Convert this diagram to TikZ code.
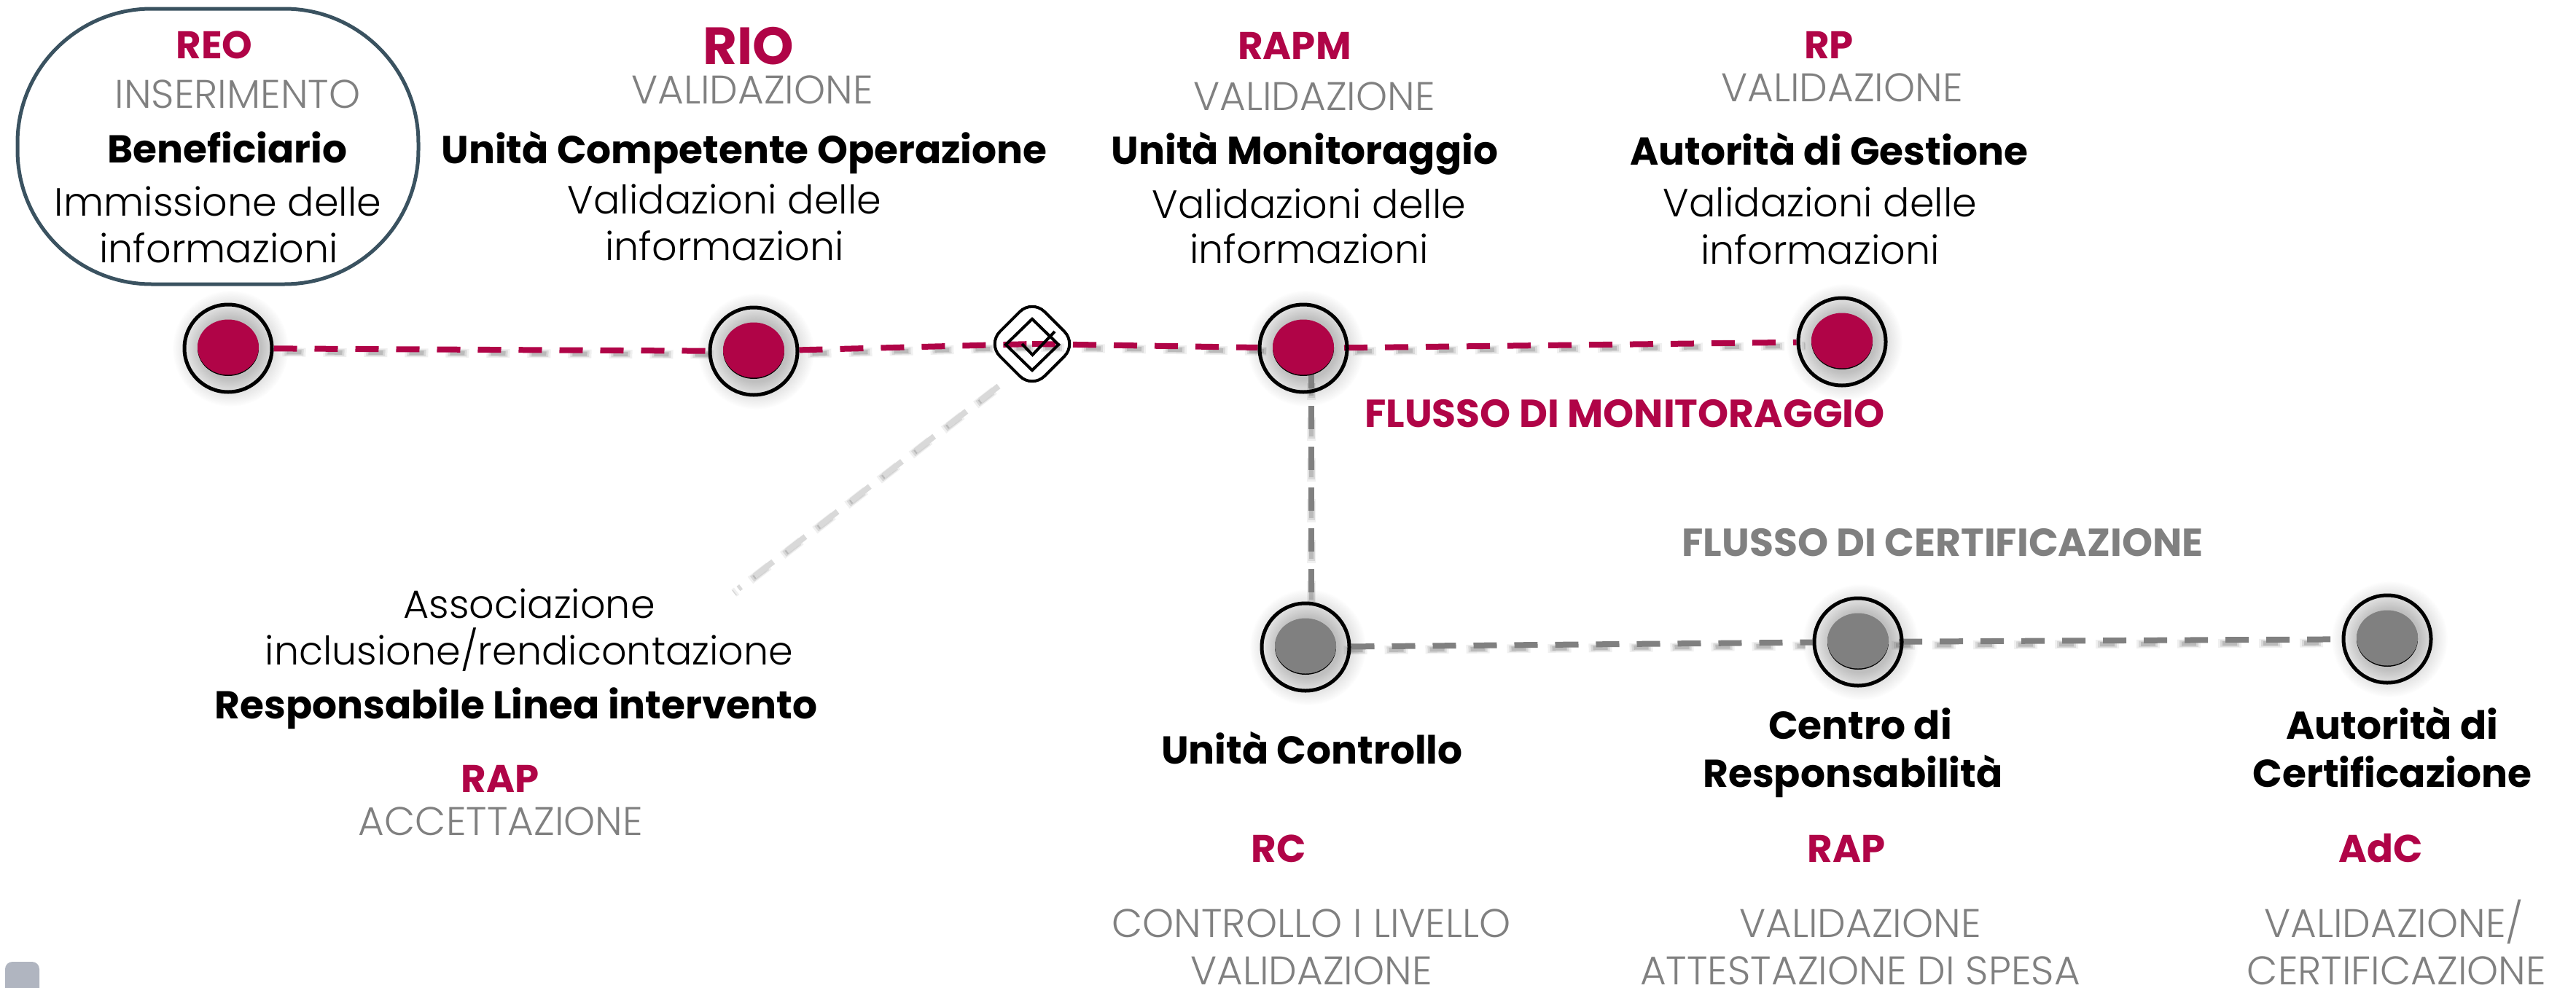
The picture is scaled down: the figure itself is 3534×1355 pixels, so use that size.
\documentclass[tikz,border=0pt]{standalone}
\usepackage{fontspec}
\usetikzlibrary{shapes.geometric}
\setmainfont{Poppins}
\newfontfamily\plight{Poppins Light}
\newfontfamily\psemi{Poppins}[UprightFont=* Bold]
\definecolor{crim}{HTML}{B00447}
\definecolor{gr}{HTML}{808080}
\definecolor{lgr}{HTML}{D9D9D9}
\definecolor{slate}{HTML}{3A5260}
\definecolor{sq}{HTML}{B0B5C0}
\pgfdeclareradialshading{nodeglow}{\pgfpoint{0bp}{0bp}}{color(0bp)=(black!25); color(13bp)=(black!25); color(19.4bp)=(black!10); color(24bp)=(black!2); color(25bp)=(white); color(50bp)=(white)}
\pgfdeclarelayer{glowl}
\pgfdeclarelayer{linesl}
\pgfsetlayers{glowl,linesl,main}
\tikzset{
  txt/.style={inner sep=0pt,anchor=base,align=center},
  role/.style={txt,font=\psemi\fontsize{26.5}{26.5}\selectfont,text=crim},
  state/.style={txt,font=\plight\fontsize{27.4}{27.4}\selectfont,text=gr},
  actor/.style={txt,font=\psemi\fontsize{26.7}{26.7}\selectfont,text=black},
  body/.style={txt,font=\plight\fontsize{27}{27}\selectfont,text=black},
  flowlab/.style={txt,font=\psemi\fontsize{26.8}{26.8}\selectfont},
  ringn/.style={circle,draw=black,line width=2.5pt,minimum size=60pt,inner sep=0pt},
  dotn/.style={ellipse,inner sep=0pt,minimum width=42pt,minimum height=38pt},
  dashln/.style={line width=4pt,dash pattern=on 16pt off 12pt},
  shadowa/.style={line width=6pt,dash pattern=on 16pt off 12pt,draw=black,opacity=.06},
  shadowb/.style={line width=4.5pt,dash pattern=on 13pt off 15pt,dash phase=26.5pt,draw=black,opacity=.1},
  shadowc/.style={line width=3pt,dash pattern=on 10pt off 18pt,dash phase=25pt,draw=black,opacity=.14},
}
\newcommand{\station}[3]{%
  \node[ringn] (#1) at (#2) {};
  \begin{pgfonlayer}{glowl}
    \shade[shading=nodeglow] ([shift={(3,0)}]#1.center) circle[radius=40pt];
  \end{pgfonlayer}
  \fill[black] (#1.center) ellipse[x radius=21pt,y radius=19pt];
  \node[dotn,fill=#3] (#1-dot) at ([shift={(0,-1.5)}]#1.center) {};
}
% #1 start, #2 end, #3 colour, #4 and #5 shadow offset in pt
\newcommand{\flowline}[5]{%
  \begin{pgfonlayer}{linesl}
    \draw[shadowa,transform canvas={xshift=#4,yshift=#5}] (#1) -- (#2);
    \draw[shadowb,transform canvas={xshift=#4,yshift=#5}] (#1) -- (#2);
    \draw[shadowc,transform canvas={xshift=#4,yshift=#5}] (#1) -- (#2);
    \draw[dashln,draw=#3] (#1) -- (#2);
  \end{pgfonlayer}
}
\begin{document}
\begin{tikzpicture}[x=0.5pt,y=-0.5pt]
\useasboundingbox (0,0) rectangle (3534,1355);
% corner square
\fill[sq,rounded corners=5pt] (7,1320) rectangle (54,1375);
% highlighted box
\node[draw=slate,line width=2.5pt,rounded corners=92pt,minimum width=275pt,minimum height=189pt,inner sep=0pt] (box) at (299,201) {};
% stations
\station{reo}{313,478}{crim}
\station{rio}{1034,482}{crim}
\station{rapm}{1788,478}{crim}
\station{rp}{2527,469}{crim}
\station{uc}{1791,888}{gr}
\station{cr}{2549,881}{gr}
\station{adc}{3275,877}{gr}
% check diamond
\node[diamond,draw=black,line width=2pt,rounded corners=12pt,minimum width=62pt,minimum height=62pt,inner sep=0pt,aspect=1] (check) at (1416,472) {};
\node[diamond,draw=black,line width=2pt,minimum width=37pt,minimum height=36pt,inner sep=0pt,aspect=1] (checkin) at (1416,473) {};
\coordinate (ck1) at (1402,472);
\coordinate (ck2) at (1416.5,487);
\coordinate (ck3) at (1447,455);
\draw[black,line width=2pt] (ck1) -- (ck2) -- (ck3);
% connectors
\flowline{reo}{rio}{crim}{6pt}{-2.5pt}
\flowline{rio}{check.center}{crim}{6pt}{-2.5pt}
\flowline{check.center}{rapm}{crim}{6pt}{-2.5pt}
\flowline{rapm.center}{rp}{crim}{6pt}{-2.5pt}
\flowline{uc}{cr}{gr}{-5pt}{-2.5pt}
\flowline{cr.center}{adc}{gr}{-5pt}{-2.5pt}
\coordinate (vtop) at (1799,813);
\coordinate (vbot) at (1799,510);
\flowline{vtop}{vbot}{gr}{0pt}{-8pt}
\coordinate (dtop) at (1370,530);
\coordinate (dbot) at (1013,808);
\flowline{dtop}{dbot}{lgr}{-3pt}{-3pt}
% REO column
\node[role] (t1) at (294,80) {REO};
\node[state] (t2) at (326,148) {INSERIMENTO};
\node[actor] (t3) at (312,223) {Beneficiario};
\node[body] (t4) at (299,296) {Immissione delle};
\node[body] (t5) at (300,360) {informazioni};
% RIO column
\node[role,font=\psemi\fontsize{36}{36}\selectfont] (t6) at (1027,88) {RIO};
\node[state] (t7) at (1032,142) {VALIDAZIONE};
\node[actor] (t8) at (1021,224) {Unità Competente Operazione};
\node[body] (t9) at (994,293) {Validazioni delle};
\node[body] (t10) at (994,357) {informazioni};
% RAPM column
\node[role] (t11) at (1776,81) {RAPM};
\node[state] (t12) at (1803,151) {VALIDAZIONE};
\node[actor] (t13) at (1790,225) {Unità Monitoraggio};
\node[body] (t14) at (1796,299) {Validazioni delle};
\node[body] (t15) at (1796,361) {informazioni};
% RP column
\node[role] (t16) at (2509,80) {RP};
\node[state] (t17) at (2527,139) {VALIDAZIONE};
\node[actor] (t18) at (2509,226) {Autorità di Gestione};
\node[body] (t19) at (2497,297) {Validazioni delle};
\node[body] (t20) at (2497,362) {informazioni};
% flow labels
\node[flowlab,text=crim] (t21) at (2229,586) {FLUSSO DI MONITORAGGIO};
\node[flowlab,text=gr] (t22) at (2665,763) {FLUSSO DI CERTIFICAZIONE};
% association
\node[body] (t23) at (726,848) {Associazione};
\node[body] (t24) at (726,912) {inclusione/rendicontazione};
\node[actor] (t25) at (708,986) {Responsabile Linea intervento};
\node[role] (t26) at (686,1087) {RAP};
\node[state] (t27) at (687,1146) {ACCETTAZIONE};
% lower columns
\node[actor] (t28) at (1800,1048) {Unità Controllo};
\node[role] (t29) at (1754,1183) {RC};
\node[state] (t30) at (1799,1286) {CONTROLLO I LIVELLO};
\node[state] (t31) at (1799,1351) {VALIDAZIONE};
\node[actor] (t32) at (2552,1014) {Centro di};
\node[actor] (t33) at (2542,1080) {Responsabilità};
\node[role] (t34) at (2533,1183) {RAP};
\node[state] (t35) at (2552,1286) {VALIDAZIONE};
\node[state] (t36) at (2552,1351) {ATTESTAZIONE DI SPESA};
\node[actor] (t37) at (3282,1014) {Autorità di};
\node[actor] (t38) at (3282,1080) {Certificazione};
\node[role] (t39) at (3266,1183) {AdC};
\node[state] (t40) at (3284,1286) {VALIDAZIONE/};
\node[state] (t41) at (3288,1351) {CERTIFICAZIONE};
\end{tikzpicture}
\end{document}
